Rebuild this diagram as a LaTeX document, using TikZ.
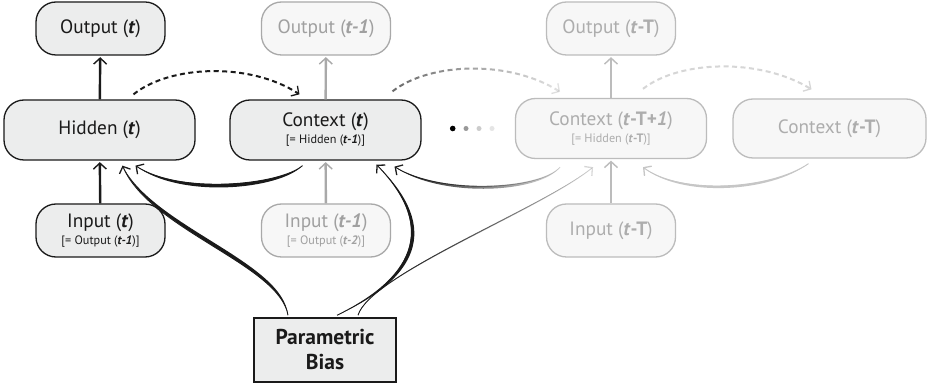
\documentclass[tikz,border=0pt]{standalone}
\usepackage{fontspec}
\setmainfont{PT Sans}
\usetikzlibrary{arrows.meta,calc,fadings}

\definecolor{boxfill}{HTML}{ECEDED}
\definecolor{fadefill}{HTML}{F7F7F7}
\definecolor{ink}{HTML}{1A1A1A}
\definecolor{grA}{HTML}{A9A9A9}
\definecolor{grAt}{HTML}{A0A0A0}
\definecolor{grB}{HTML}{BCBCBC}
\definecolor{grBt}{HTML}{ADADAD}
\definecolor{grC}{HTML}{C6C6C6}
\definecolor{grD}{HTML}{D6D6D6}

\tikzfading[name=fadeR, left color=transparent!0, right color=transparent!85]
\tikzfading[name=fadeRb, left color=transparent!35, right color=transparent!88]

\newcommand{\bfit}[1]{\textbf{\textit{#1}}}
\newcommand{\sublbl}[1]{{\fontsize{12.2}{13}\selectfont #1}}
\newcommand{\tapercurve}[6]{%
  \fill[#1] (#2) .. controls (#3) and (#4) .. (#5) .. controls ($(#4)+(#6)$) and ($(#3)+(#6)$) .. (#2);
  \draw[#1, thinarr] (#2) .. controls (#3) and (#4) .. (#5);}

\tikzset{
  box/.style={rounded corners=20pt, draw=ink, fill=boxfill, line width=1.3pt,
    text=ink, inner sep=0pt, align=center, font=\fontsize{19.3}{20}\selectfont},
  wide/.style={minimum width=191pt, minimum height=60pt},
  narrow/.style={minimum width=129pt, minimum height=53pt},
  fadedA/.style={draw=grA, fill=fadefill, text=grAt},
  fadedB/.style={draw=grB, fill=fadefill, text=grBt},
  pbbox/.style={draw=ink, fill=boxfill, line width=1.5pt, minimum width=142pt,
    minimum height=64pt, inner sep=0pt, align=center, text=ink,
    font=\fontsize{21.5}{25}\selectfont\bfseries},
  arr/.style={line width=2.4pt, shorten >=1.5pt,
    -{Straight Barb[length=6pt,width=13pt,line width'=1.4pt]}},
  thinarr/.style={line width=0.9pt,
    -{Straight Barb[length=5.5pt,width=12pt,line width'=1.3pt]}},
  dasharc/.style={line width=2pt, dash pattern=on 5pt off 3.5pt,
    -{Straight Barb[length=5.5pt,width=12pt,line width'=1.3pt]}},
  dot/.style={circle, inner sep=0pt, minimum size=5.6pt}
}

\begin{document}
\begin{tikzpicture}[x=1pt,y=-1pt]
\fill[white] (0,0) rectangle (930,387);
\useasboundingbox (0,0) rectangle (930,387);

% nodes, time t
\node[box,narrow] (out1) at (100.5,28.5) {Output (\bfit{t})};
\node[box,wide] (hid) at (99.5,130) {Hidden (\bfit{t})};
\node[box,narrow] (in1) at (100.5,230.5) {Input (\bfit{t})\\[-3pt]\sublbl{[= Output (\bfit{t-1})]}};
% time t-1
\node[box,narrow,fadedA] (out2) at (326,28.5) {Output (\bfit{t-1})};
\node[box,wide] (ctx) at (325.5,130) {Context (\bfit{t})\\[-3pt]\sublbl{[= Hidden (\bfit{t-1})]}};
\node[box,narrow,fadedA] (in2) at (326,230.5) {Input (\bfit{t-1})\\[-3pt]\sublbl{[= Output (\bfit{t-2})]}};
% time t-T
\node[box,narrow,fadedB] (out3) at (611,28.5) {Output (\bfit{t}\textbf{-T})};
\node[box,wide,fadedB] (ctxA) at (611,128.5) {Context (\bfit{t}\textbf{-T+}\bfit{1})\\[-3pt]\sublbl{[= Hidden (\bfit{t}\textbf{-T})]}};
\node[box,narrow,fadedB] (in3) at (611,230.5) {Input (\bfit{t}\textbf{-T})};
\node[box,fadedB,minimum width=193pt,minimum height=59pt] (ctxB) at (829.5,128.5) {Context (\bfit{t}\textbf{-T})};
% parametric bias
\node[pbbox] (pb) at (325,350) {Parametric\\Bias};

% dots
\node[dot,fill=black] (d1) at (452.7,128.5) {};
\node[dot,fill=black!40,minimum size=5pt] (d2) at (466,128.5) {};
\node[dot,fill=black!20,minimum size=5pt] (d3) at (479,128.5) {};
\node[dot,fill=black!10,minimum size=5pt] (d4) at (492,128.5) {};

% vertical arrows
\draw[arr,ink] (in1) -- (hid);
\draw[arr,ink] (hid) -- (out1);
\draw[arr,grA] (in2) -- (ctx);
\draw[arr,grA] (ctx) -- (out2);
\draw[arr,grB] (in3) -- (ctxA);
\draw[arr,grB] (ctxA) -- (out3);

% end points
\coordinate (pbL) at ($(pb.north)+(-37,-2)$);
\coordinate (pbM) at ($(pb.north)+(12,-2)$);
\coordinate (pbR) at ($(pb.north)+(33,-2)$);
\coordinate (hidP) at ($(hid.south)+(23,5)$);
\coordinate (hidC) at ($(hid.south)+(36,5)$);
\coordinate (ctxOut) at ($(ctx.south)+(-23,5)$);
\coordinate (ctxP) at ($(ctx.south)+(51,4)$);
\coordinate (ctxC) at ($(ctx.south)+(69,6)$);
\coordinate (ctxAP) at ($(ctxA.south)+(-18,8)$);
\coordinate (ctxAOut) at ($(ctxA.south)+(-51,8)$);
\coordinate (ctxAC) at ($(ctxA.south)+(32,8)$);
\coordinate (ctxBOut) at ($(ctxB.south)+(-21,5)$);
\coordinate (hidTop) at ($(hid.north)+(34,-5)$);
\coordinate (ctxIn) at ($(ctx.north)+(-26,-5)$);
\coordinate (ctxTop) at ($(ctx.north)+(67,-8)$);
\coordinate (ctxAIn) at ($(ctxA.north)+(-51,-6)$);
\coordinate (ctxATop) at ($(ctxA.north)+(32,-9)$);
\coordinate (ctxBIn) at ($(ctxB.north)+(-18,-9)$);

% parametric bias connectors
\tapercurve{ink}{pbL}{280,265}{150,230}{hidP}{3.2,-3.2}
\tapercurve{ink}{pbM}{410,280}{440,230}{ctxP}{4.5,0}
\tapercurve{ink,path fading=fadeR}{pbR}{370,275}{540,210}{ctxAP}{2.2,-2.2}

% context feedback connectors
\tapercurve{ink}{ctxOut}{280,185}{180,195}{hidC}{0,4.5}
\tapercurve{ink,path fading=fadeR}{ctxAOut}{540,190}{440,195}{ctxC}{0,3.5}
\tapercurve{grC}{ctxBOut}{770,190}{680,195}{ctxAC}{0,3}

% dashed copy connectors
\draw[dasharc,ink] (hidTop) .. controls (170,65) and (250,62) .. (ctxIn);
\draw[dasharc,ink,path fading=fadeRb] (ctxTop) .. controls (430,62) and (510,60) .. (ctxAIn);
\draw[dasharc,grD] (ctxATop) .. controls (680,60) and (760,58) .. (ctxBIn);
\end{tikzpicture}
\end{document}
